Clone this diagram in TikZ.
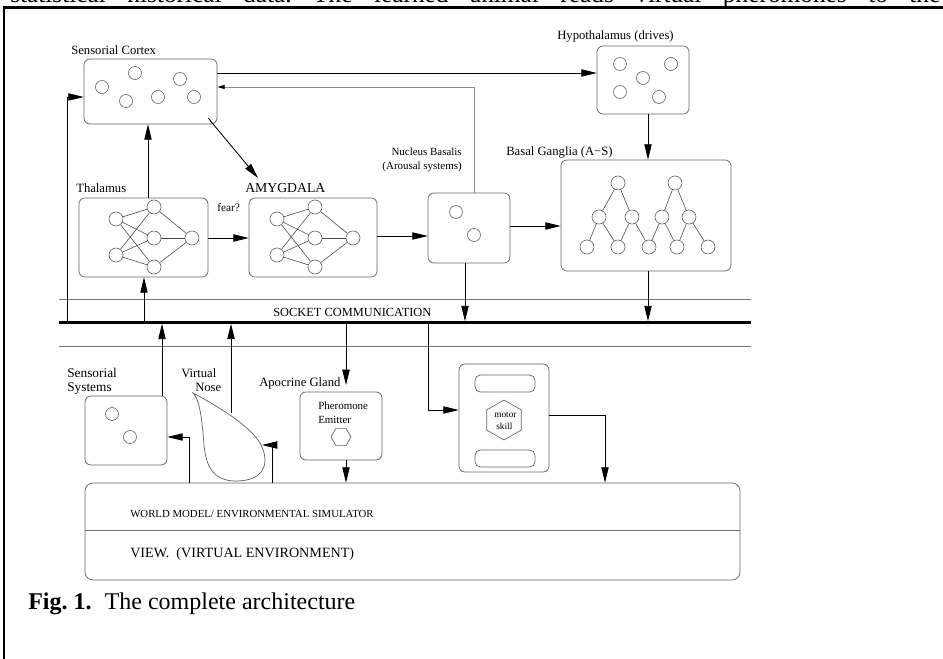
\documentclass[tikz,border=0pt]{standalone}
\usepackage{fontspec}
\setmainfont{Liberation Serif}
\usetikzlibrary{arrows.meta,fit,shapes.geometric}
\frenchspacing
\begin{document}
\begin{tikzpicture}[x=0.75pt,y=-0.75pt,
  box/.style={draw=black!60,line width=0.55pt,rounded corners=4.5pt,inner sep=0pt},
  neur/.style={draw=black!60,line width=0.5pt,circle,minimum size=10.5pt,inner sep=0pt},
  dot/.style={draw=black!60,line width=0.5pt,circle,minimum size=9.75pt,inner sep=0pt},
  link/.style={draw=black!70,line width=0.45pt},
  conn/.style={line width=0.65pt},
  arr/.style={conn,-{Triangle[length=11.5pt,width=5.5pt]}},
  garr/.style={draw=black!45,line width=0.65pt,-{Triangle[length=5.5pt,width=3pt,color=black]}},
  thin/.style={draw=black!55,line width=0.5pt},
  lbl/.style={inner sep=0pt,anchor=base west,font=\fontsize{9.5}{11.5}\selectfont},
]
\useasboundingbox (0,0) rectangle (943,659);
\fill[white] (0,0) rectangle (943,659);

% clipped line of running text at the very top
\node[anchor=base west,inner sep=0pt,font=\fontsize{19}{22}\selectfont] (toptext) at (10,3)
  {\makebox[697.5pt][s]{statistical historical data. The learned animal reads virtual pheromones to the}};

% frame
\coordinate (frBL) at (4,668);
\coordinate (frTL) at (4,7.5);
\coordinate (frTR) at (952,7.5);
\draw[line width=1.9pt] (frBL) -- (frTL) -- (frTR);

% helper coordinates
\foreach \v in {67,144,148,162,189,231,272,346,428,465,474,605,648} \coordinate (x\v) at (\v,0);
\foreach \v in {73,87,97,226,236,238,385,410,413,415,437,445} \coordinate (y\v) at (0,\v);

% ---------- boxes ----------
\node[box,fit={(84,59)(217,124)}] (cortex) {};
\node[box,fit={(597,46)(689,114)}] (hypo) {};
\node[box,fit={(79,198)(208,277)}] (thal) {};
\node[box,fit={(249,198)(377,277)}] (amyg) {};
\node[box,fit={(428,193)(510,263)}] (nucleus) {};
\node[box,fit={(561,160)(731,271)}] (basal) {};
\node[box,fit={(85,396)(167,465)}] (senssys) {};
\node[box,fit={(300,392)(382,460)}] (apoc) {};
\node[box,fit={(459,364)(549,472)}] (motor) {};
\node[box,rounded corners=4pt,fit={(475,375)(535,392)}] (motortop) {};
\node[box,rounded corners=4pt,fit={(475,450)(535,467)}] (motorbot) {};
\node[box,rounded corners=6pt,fit={(85,483)(740,580)}] (world) {};
\coordinate (wdiv) at (0,530);
\draw[thin] (world.west |- wdiv) -- (world.east |- wdiv);

% hexagons
\node[draw=black!60,line width=0.5pt,regular polygon,regular polygon sides=6,minimum size=15pt,inner sep=0pt] (phex) at (341,437) {};
\node[draw=black!60,line width=0.5pt,regular polygon,regular polygon sides=6,shape border rotate=90,minimum size=30pt,inner sep=0pt] (mhex) at (504,420) {};
\node[lbl,font=\fontsize{7}{8}\selectfont] (lmot1) at (494,417) {motor};
\node[lbl,font=\fontsize{7}{8}\selectfont] (lmot2) at (496,429) {skill};

% circles
\foreach \n/\x/\y in {c1/102/87,c2/135/73,c3/126/101,c4/158/97,c5/180/79,c6/194/97,
  hy1/620/64,hy2/671/64,hy3/643/78,hy4/620/92,hy5/659/97,
  nb1/456/212,nb2/474/235,ss1/112/414,ss2/130/437}
  \node[dot] (\n) at (\x,\y) {};

% neural nets in thalamus and amygdala
\foreach \p/\d in {T/0,A/161}{
  \node[neur] (\p-i1) at (116+\d,219) {};
  \node[neur] (\p-i2) at (116+\d,255) {};
  \node[neur] (\p-h1) at (154+\d,207) {};
  \node[neur] (\p-h2) at (154+\d,238) {};
  \node[neur] (\p-h3) at (154+\d,267) {};
  \node[neur] (\p-o) at (192+\d,238) {};
  \foreach \i in {1,2}{\foreach \h in {1,2,3}{\draw[link] (\p-i\i) -- (\p-h\h);}}
  \foreach \h in {1,2,3}{\draw[link] (\p-h\h) -- (\p-o);}
}

% basal ganglia trees
\foreach \n/\x/\y in {b1/618/183,b2/675/183,m1/599/217,m2/632/217,m3/662/217,m4/689/217,
  l1/587/247,l2/618/247,l3/649/247,l4/677/247,l5/708/247}
  \node[neur] (\n) at (\x,\y) {};
\foreach \a/\b in {b1/m1,b1/m2,m1/l1,m1/l2,m2/l2,m2/l3,b2/m3,b2/m4,m3/l3,m3/l4,m4/l4,m4/l5}
  \draw[link] (\a) -- (\b);

% virtual nose
\draw[draw=black!60,line width=0.55pt] (193,393) .. controls (225,410) and (255,430) .. (262,447)
  .. controls (270,466) and (262,481) .. (236,481) .. controls (212,481) and (206,465) .. (204,445)
  .. controls (202,420) and (200,400) .. (193,393) -- cycle;
\coordinate (noseR) at (262,445);
\coordinate (noseT) at (231,413);

% socket communication bus
\coordinate (busL) at (59,322.5);
\coordinate (busR) at (751,322.5);
\coordinate (upL) at (59,299.5);
\coordinate (upR) at (751,299.5);
\coordinate (loL) at (59,346);
\coordinate (loR) at (751,346);
\draw[thin] (upL) -- (upR);
\draw[thin] (loL) -- (loR);
\draw[line width=2.2pt] (busL) -- (busR);

% ---------- labels ----------
\node[lbl] (lcortex) at (71,55) {Sensorial Cortex};
\node[lbl] (lhypo) at (557,40) {Hypothalamus (drives)};
\node[lbl] (lthal) at (76,193) {Thalamus};
\node[lbl,font=\fontsize{10.3}{12}\selectfont] (lamyg) at (245,193) {AMYGDALA};
\node[lbl,font=\fontsize{8.5}{10}\selectfont] (lfear) at (217,212) {fear?};
\node[inner sep=0pt,anchor=base east,font=\fontsize{8.2}{10}\selectfont] (lnuc1) at (462,156) {Nucleus Basalis};
\node[inner sep=0pt,anchor=base east,font=\fontsize{8.2}{10}\selectfont] (lnuc2) at (462,170) {(Arousal systems)};
\node[lbl] (lbasal) at (506,156) {Basal Ganglia (A−S)};
\node[lbl,font=\fontsize{9.3}{11}\selectfont] (lsock) at (273,317) {SOCKET COMMUNICATION};
\node[lbl,font=\fontsize{10}{12}\selectfont] (lss1) at (67,378) {Sensorial};
\node[lbl,font=\fontsize{10}{12}\selectfont] (lss2) at (67,392) {Systems};
\node[lbl] (lvn1) at (181,378) {Virtual};
\node[lbl] (lvn2) at (195,392) {Nose};
\node[lbl] (lapo) at (259,387) {Apocrine Gland};
\node[lbl,font=\fontsize{8.2}{10}\selectfont] (lph1) at (318,410) {Pheromone};
\node[lbl,font=\fontsize{8.2}{10}\selectfont] (lph2) at (318,423) {Emitter};
\node[lbl,font=\fontsize{8.1}{10}\selectfont] (lworld) at (130,517) {WORLD MODEL/ ENVIRONMENTAL SIMULATOR};
\node[lbl,font=\fontsize{10.6}{12}\selectfont] (lview) at (130,557) {VIEW.\ \ (VIRTUAL ENVIRONMENT)};
\node[lbl,font=\fontsize{18}{20}\selectfont] (caption) at (28,609) {\textbf{Fig. 1.}\hspace{0.55em}The complete architecture};

% ---------- connectors ----------
\draw[arr] (x67 |- busL) -- (x67 |- y97) -- (cortex.west |- y97);
\draw[arr] (cortex.east |- y73) -- (hypo.west |- y73);
\draw[garr] (nucleus.north -| x474) -- (x474 |- y87) -- (cortex.east |- y87);
\draw[arr] (thal.north -| x148) -- (cortex.south -| x148);
\coordinate (amyTip) at (258,178);
\draw[arr] ([shift={(-9,-6)}]cortex.south east) -- (amyTip);
\draw[arr] (thal.east |- y238) -- (amyg.west |- y238);
\draw[arr] (amyg.east |- y236) -- (nucleus.west |- y236);
\draw[arr] (nucleus.east |- y226) -- (basal.west |- y226);
\draw[arr] (hypo.south -| x648) -- (basal.north -| x648);
\draw[arr] (nucleus.south -| x465) -- ([yshift=1pt]x465 |- busL);
\draw[arr] (basal.south -| x648) -- ([yshift=1pt]x648 |- busL);
\draw[arr] (x144 |- busL) -- (thal.south -| x144);
\draw[arr] (senssys.north -| x162) -- ([yshift=-1pt]x162 |- busL);
\draw[arr] (noseT -| x231) -- ([yshift=-1pt]x231 |- busL);
\draw[arr] (x346 |- busL) -- (x346 |- y385);
\draw[arr] (x428 |- busL) -- (x428 |- y410) -- (motor.west |- y410);
\draw[arr] (motor.east |- y415) -- (x605 |- y415) -- (world.north -| x605);
\draw[arr] (apoc.south -| x346) -- (world.north -| x346);
\draw[arr] (world.north -| x189) -- (x189 |- y437) -- (senssys.east |- y437);
\draw[arr] (world.north -| x272) -- (x272 |- y445) -- (noseR);
\end{tikzpicture}
\end{document}
